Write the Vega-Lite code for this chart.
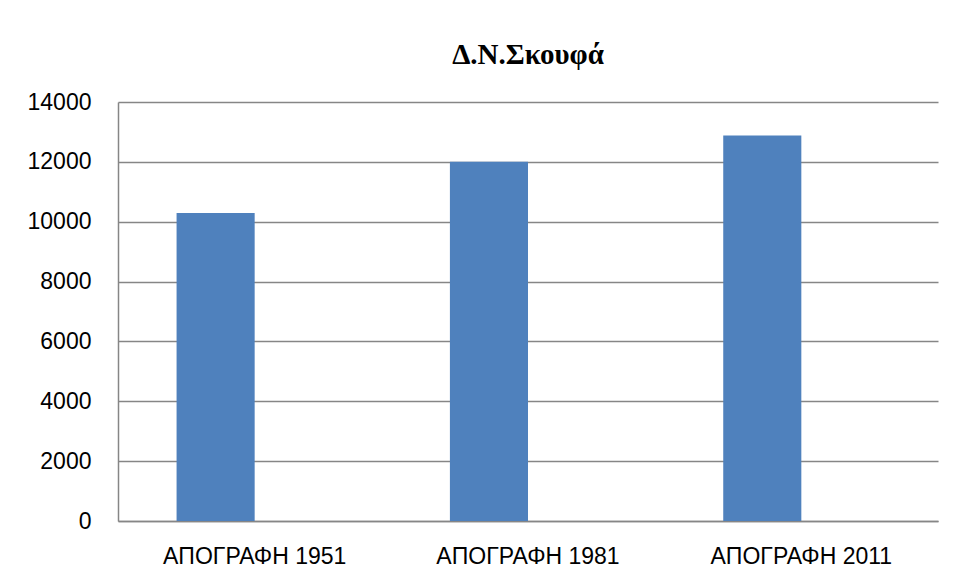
{
  "$schema": "https://vega.github.io/schema/vega-lite/v6.json",
  "width": 820,
  "height": 419,
  "autosize": {"type": "none"},
  "padding": {"left": 118, "top": 102, "right": 18, "bottom": 59},
  "background": "white",
  "title": {
    "text": "Δ.Ν.Σκουφά",
    "font": "Liberation Serif",
    "fontSize": 29,
    "fontWeight": "bold",
    "color": "black",
    "anchor": "middle",
    "frame": "group",
    "baseline": "alphabetic",
    "offset": -2
  },
  "data": {
    "values": [
      {"census": "ΑΠΟΓΡΑΦΗ 1951", "series": "s1", "population": 10290},
      {"census": "ΑΠΟΓΡΑΦΗ 1981", "series": "s1", "population": 12000},
      {"census": "ΑΠΟΓΡΑΦΗ 2011", "series": "s1", "population": 12880}
    ]
  },
  "mark": {"type": "bar", "color": "#4F81BD"},
  "encoding": {
    "x": {
      "field": "census",
      "type": "nominal",
      "sort": null,
      "scale": {"paddingInner": 0, "paddingOuter": 0},
      "axis": {
        "title": null,
        "labelAngle": 0,
        "labelFont": "Liberation Sans",
        "labelFontSize": 23,
        "labelColor": "black",
        "labelPadding": 24,
        "labelLimit": 400,
        "ticks": false,
        "domainColor": "#868686",
        "domainWidth": 1.5
      }
    },
    "xOffset": {
      "field": "series",
      "type": "nominal",
      "scale": {"domain": ["s1", "s2"], "paddingInner": 0, "paddingOuter": 0.75}
    },
    "y": {
      "field": "population",
      "type": "quantitative",
      "scale": {"domain": [0, 14000], "nice": false},
      "axis": {
        "title": null,
        "values": [0, 2000, 4000, 6000, 8000, 10000, 12000, 14000],
        "format": "d",
        "labelFont": "Liberation Sans",
        "labelFontSize": 23,
        "labelColor": "black",
        "labelPadding": 27,
        "ticks": false,
        "grid": true,
        "gridColor": "#868686",
        "gridWidth": 1.5,
        "domainColor": "#868686",
        "domainWidth": 1.5
      }
    }
  },
  "config": {
    "view": {"stroke": null}
  }
}
